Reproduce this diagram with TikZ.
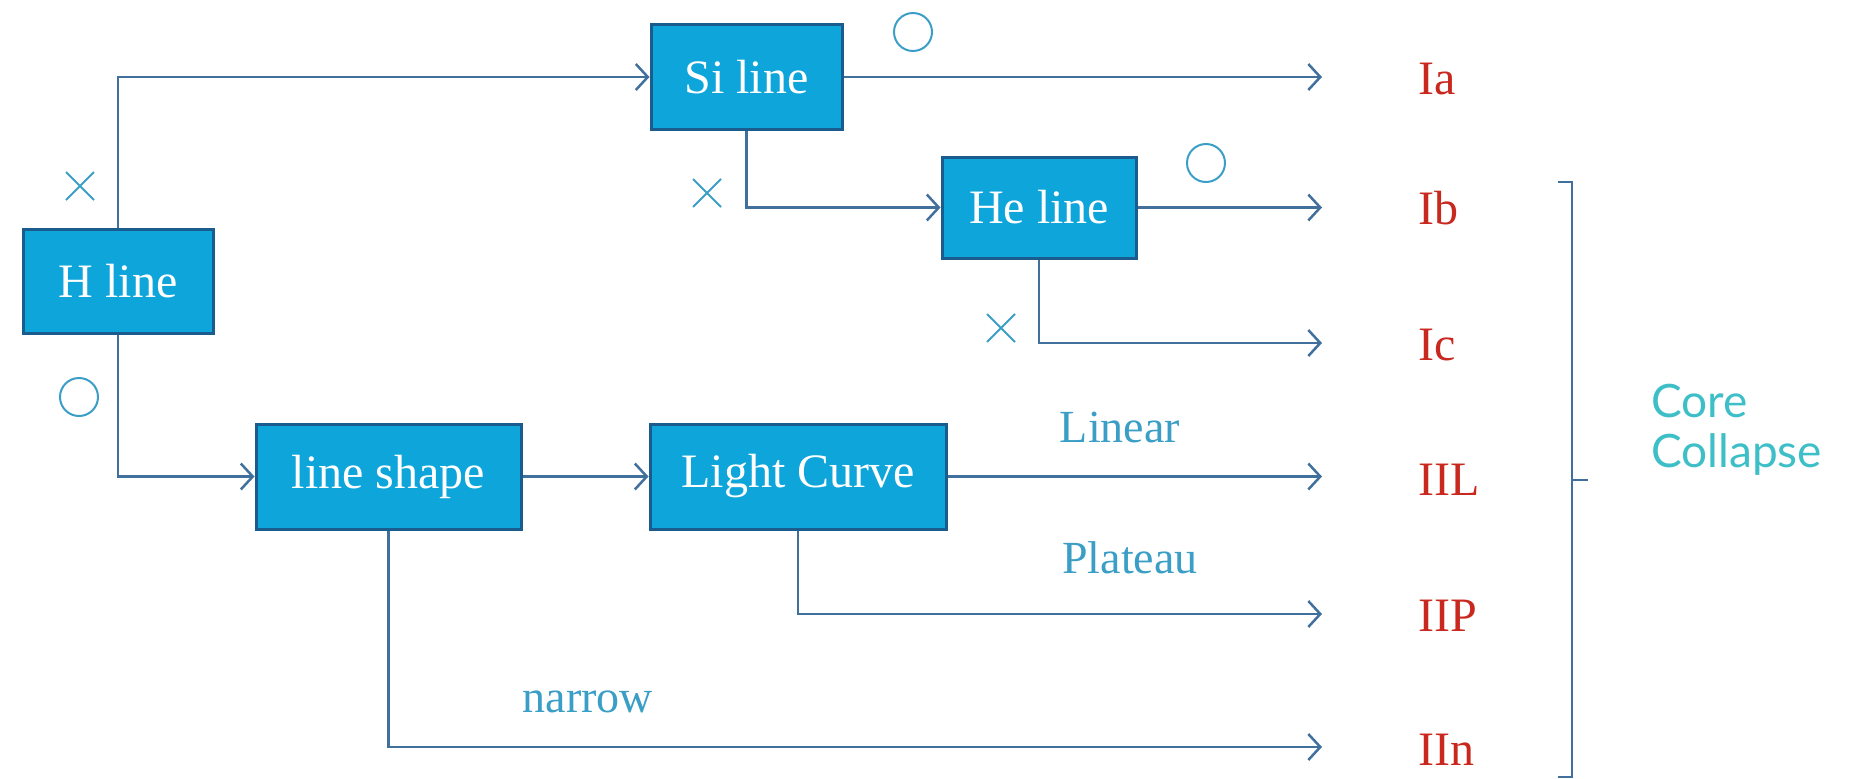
\documentclass[tikz,border=0pt]{standalone}
\usepackage{fontspec}
\setmainfont{Liberation Serif}
\newfontfamily\latofont{Lato}
\usetikzlibrary{arrows.meta,shapes.misc}
\definecolor{boxfill}{HTML}{0EA5DB}
\definecolor{boxedge}{HTML}{1A5C8E}
\definecolor{conncol}{HTML}{41709C}
\definecolor{typered}{HTML}{C8281E}
\definecolor{lblcol}{HTML}{3A9EC6}
\definecolor{corecol}{HTML}{3EBFC8}
\tikzset{
  stepbox/.style={draw=boxedge, line width=3pt, fill=boxfill, text=white,
    font=\fontsize{48}{56}\selectfont, inner sep=0pt},
  link/.style={draw=conncol, line width=2.5pt},
  arr/.style={link, -{Straight Barb[length=12pt,width=26pt,line width=2.5pt]}},
  typ/.style={text=typered, font=\fontsize{48}{56}\selectfont, anchor=base west, inner sep=0pt},
  yesmark/.style={circle, draw=lblcol, line width=2pt, minimum size=38pt, inner sep=0pt},
  nomark/.style={cross out, draw=lblcol, line width=2pt, minimum size=26pt, inner sep=0pt},
  branch/.style={text=lblcol, font=\fontsize{46}{54}\selectfont, inner sep=0pt},
}
\begin{document}
\begin{tikzpicture}[x=1pt,y=-1pt]
\useasboundingbox (0,0) rectangle (1850,779);

% boxes
\node[stepbox, minimum width=190pt, minimum height=104pt] (H)  at (118,281)   {H line};
\node[stepbox, minimum width=191pt, minimum height=105pt] (Si) at (746.5,77)  {Si line};
\node[stepbox, minimum width=194pt, minimum height=101pt] (He) at (1039,207.5) {He line};
\node[stepbox, minimum width=265pt, minimum height=105pt] (ls) at (388.5,476.5) {line shape};
\node[stepbox, minimum width=296pt, minimum height=105pt] (LC) at (798,476.5) {Light Curve};

% free arrow ends
\coordinate (eA) at (1322,77);
\coordinate (eB) at (1322,207.5);
\coordinate (eC) at (1322,343);
\coordinate (eL) at (1322,476.5);
\coordinate (eP) at (1322,614);
\coordinate (eN) at (1322,747);

% connectors
\draw[arr] (H.north) |- (Si.west);
\draw[arr] (H.south) |- (ls.west);
\draw[arr] (Si.east) -- (eA);
\draw[arr] (Si.south) |- (He.west);
\draw[arr] (He.east) -- (eB);
\draw[arr] (He.south) |- (eC);
\draw[arr] (ls.east) -- (LC.west);
\draw[arr] (LC.east) -- (eL);
\draw[arr] (LC.south) |- (eP);
\draw[arr] (ls.south) |- (eN);

% yes / no marks
\node[nomark]  (x1) at (80,186) {};
\node[yesmark] (o1) at (79,397) {};
\node[yesmark] (o2) at (913,32) {};
\node[nomark]  (x2) at (707,193) {};
\node[yesmark] (o3) at (1206,163) {};
\node[nomark]  (x3) at (1001,328) {};

% branch labels
\node[branch] (lin) at (1120,427) {Linear};
\node[branch] (pla) at (1130,558) {Plateau};
\node[branch] (nar) at (588,702) {narrow};

% types
\node[typ] (Ia)  at (1418,94)  {Ia};
\node[typ] (Ib)  at (1418,224) {Ib};
\node[typ] (Ic)  at (1418,360) {Ic};
\node[typ] (IIL) at (1418,495) {IIL};
\node[typ] (IIP) at (1418,631) {IIP};
\node[typ] (IIn) at (1418,765) {IIn};

% bracket
\coordinate (bt) at (1572,182);
\coordinate (bb) at (1572,777);
\coordinate (bm) at (1572,480);
\draw[link, line width=2.2pt] ([xshift=-14pt]bt) -- (bt) -- (bb) -- ([xshift=-14pt]bb);
\draw[link, line width=2.2pt] (bm) -- ([xshift=16pt]bm);

\node[text=corecol, font=\latofont\fontsize{46}{50}\selectfont, align=left, anchor=west, inner sep=0pt]
  (cc) at (1651,430) {Core\\Collapse};
\end{tikzpicture}
\end{document}
